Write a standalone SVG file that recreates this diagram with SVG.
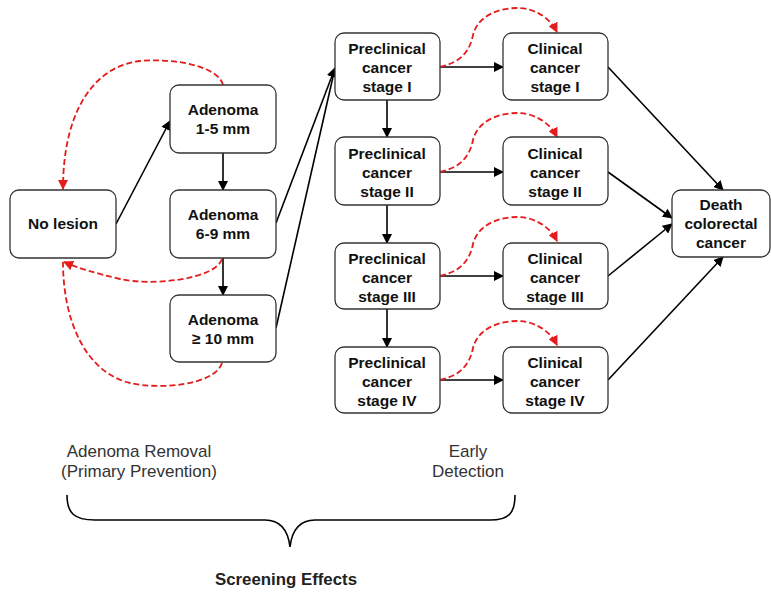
<svg xmlns="http://www.w3.org/2000/svg" width="771" height="593" viewBox="0 0 771 593">
<defs>
<marker id="ab" viewBox="0 0 10 10" refX="9" refY="5" markerWidth="10" markerHeight="10" markerUnits="userSpaceOnUse" orient="auto"><path d="M0,0 L10,5 L0,10 z" fill="#000"/></marker>
<marker id="ar" viewBox="0 0 10 10" refX="9" refY="5" markerWidth="10" markerHeight="10" markerUnits="userSpaceOnUse" orient="auto"><path d="M0,0 L10,5 L0,10 z" fill="#e41c1c"/></marker>
</defs>
<style>
.box{fill:#fff;stroke:#333;stroke-width:1.3}
.t{font-family:"Liberation Sans",Arial,sans-serif;font-weight:bold;font-size:15.5px;fill:#111;text-anchor:middle}
.b{fill:none;stroke:#000;stroke-width:1.6;marker-end:url(#ab)}
.r{fill:none;stroke:#e41c1c;stroke-width:1.8;stroke-dasharray:6 3;marker-end:url(#ar)}
.r0{fill:none;stroke:#e41c1c;stroke-width:1.8;stroke-dasharray:6 3}
.lab{font-family:"Liberation Sans",Arial,sans-serif;font-size:17px;fill:#333;text-anchor:middle}
</style>
<rect width="771" height="593" fill="#fff"/>
<g id="connectors">
<line class="b" x1="116" y1="224" x2="170" y2="121"/>
<line class="b" x1="223" y1="153" x2="223" y2="190"/>
<line class="b" x1="223" y1="258" x2="223" y2="295"/>
<line class="b" x1="276" y1="223" x2="335" y2="68"/>
<line class="b" x1="276" y1="328" x2="335" y2="68"/>
<line class="b" x1="387" y1="100" x2="387" y2="137"/>
<line class="b" x1="387" y1="205" x2="387" y2="243"/>
<line class="b" x1="387" y1="309" x2="387" y2="347"/>
<line class="b" x1="440" y1="67" x2="503" y2="67"/>
<line class="b" x1="440" y1="172" x2="503" y2="172"/>
<line class="b" x1="440" y1="276" x2="503" y2="276"/>
<line class="b" x1="440" y1="380" x2="503" y2="380"/>
<line class="b" x1="608" y1="67" x2="723" y2="190"/>
<line class="b" x1="608" y1="172" x2="672" y2="218"/>
<line class="b" x1="608" y1="276" x2="672" y2="224"/>
<line class="b" x1="608" y1="380" x2="723" y2="257"/>
<path class="r" d="M223,85 C218,66 175,58 140,61 C95,66 63,110 63,189"/>
<path class="r" d="M222,259 C215,280 150,286 120,279 C95,273 78,268 64,262"/>
<path class="r0" d="M222,363 C215,385 160,390 130,383 C85,372 63,320 63,262"/>
<path class="r" d="M440,67 C462,62 470,50 473,35 C478,15 500,8 517,8 C535,8 550,18 557,32"/>
<path class="r" d="M440,172 C462,167 470,155 473,140 C478,120 500,113 517,113 C535,113 550,123 557,137"/>
<path class="r" d="M440,276 C462,271 470,259 473,244 C478,224 500,217 517,217 C535,217 550,227 557,241"/>
<path class="r" d="M440,380 C462,375 470,363 473,348 C478,328 500,321 517,321 C535,321 550,331 557,345"/>
</g>
<g id="no-lesion"><rect class="box" x="10" y="190" width="106" height="68" rx="9"/><text class="t" x="63" y="229">No lesion</text></g>
<g id="adenoma-1-5"><rect class="box" x="170" y="85" width="106" height="68" rx="9"/><text class="t" x="223" y="115">Adenoma</text><text class="t" x="223" y="134">1-5 mm</text></g>
<g id="adenoma-6-9"><rect class="box" x="170" y="190" width="106" height="68" rx="9"/><text class="t" x="223" y="220">Adenoma</text><text class="t" x="223" y="239">6-9 mm</text></g>
<g id="adenoma-10"><rect class="box" x="170" y="295" width="106" height="67" rx="9"/><text class="t" x="223" y="325">Adenoma</text><text class="t" x="223" y="344">≥ 10 mm</text></g>
<g id="pre-1"><rect class="box" x="335" y="33" width="105" height="67" rx="9"/><text class="t" x="387" y="54">Preclinical</text><text class="t" x="387" y="73">cancer</text><text class="t" x="387" y="92">stage I</text></g>
<g id="pre-2"><rect class="box" x="335" y="137" width="105" height="68" rx="9"/><text class="t" x="387" y="159">Preclinical</text><text class="t" x="387" y="178">cancer</text><text class="t" x="387" y="197">stage II</text></g>
<g id="pre-3"><rect class="box" x="335" y="243" width="105" height="66" rx="9"/><text class="t" x="387" y="264">Preclinical</text><text class="t" x="387" y="283">cancer</text><text class="t" x="387" y="302">stage III</text></g>
<g id="pre-4"><rect class="box" x="335" y="347" width="105" height="66" rx="9"/><text class="t" x="387" y="368">Preclinical</text><text class="t" x="387" y="387">cancer</text><text class="t" x="387" y="406">stage IV</text></g>
<g id="cli-1"><rect class="box" x="503" y="33" width="105" height="67" rx="9"/><text class="t" x="555" y="54">Clinical</text><text class="t" x="555" y="73">cancer</text><text class="t" x="555" y="92">stage I</text></g>
<g id="cli-2"><rect class="box" x="503" y="137" width="105" height="68" rx="9"/><text class="t" x="555" y="159">Clinical</text><text class="t" x="555" y="178">cancer</text><text class="t" x="555" y="197">stage II</text></g>
<g id="cli-3"><rect class="box" x="503" y="243" width="105" height="66" rx="9"/><text class="t" x="555" y="264">Clinical</text><text class="t" x="555" y="283">cancer</text><text class="t" x="555" y="302">stage III</text></g>
<g id="cli-4"><rect class="box" x="503" y="347" width="105" height="66" rx="9"/><text class="t" x="555" y="368">Clinical</text><text class="t" x="555" y="387">cancer</text><text class="t" x="555" y="406">stage IV</text></g>
<g id="death"><rect class="box" x="672" y="190" width="98" height="67" rx="9"/><text class="t" x="721" y="210">Death</text><text class="t" x="721" y="229">colorectal</text><text class="t" x="721" y="248">cancer</text></g>
<g id="labels">
<text class="lab" x="139" y="457">Adenoma  Removal</text>
<text class="lab" x="139" y="477">(Primary Prevention)</text>
<text class="lab" x="468" y="457">Early</text>
<text class="lab" x="468" y="477">Detection</text>
<path d="M67,495 C67,513 74,520 95,520 L265,520 C281,520 288,530 290,547 C292,530 299,520 315,520 L490,520 C509,520 515,513 515,495" fill="none" stroke="#000" stroke-width="1.6"/>
<text x="286" y="585" font-family="Liberation Sans, Arial, sans-serif" font-weight="bold" font-size="16" fill="#222" text-anchor="middle" textLength="142" lengthAdjust="spacingAndGlyphs">Screening Effects</text>
</g>
</svg>
